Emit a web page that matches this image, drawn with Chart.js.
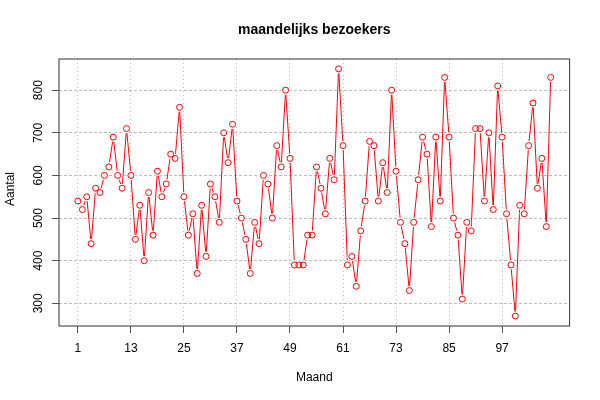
<!DOCTYPE html>
<html>
<head>
<meta charset="utf-8">
<script src="https://cdn.jsdelivr.net/npm/chart.js@4"></script>
<style>
  body { margin: 0; background: #fff; }
  canvas { display: block; }
</style>
</head>
<body>
<canvas id="myChart" width="600" height="400"></canvas>
<script>
// maandelijkse bezoekers, maand 1..108
const bezoekers = [
    540, 520, 550, 440, 570, 560, 600, 620, 690, 600, 570, 710,
    600, 450, 530, 400, 560, 460, 610, 550, 580, 650, 640, 760,
    550, 460, 510, 370, 530, 410, 580, 550, 490, 700, 630, 720,
    540, 500, 450, 370, 490, 440, 600, 580, 500, 670, 620, 800,
    640, 390, 390, 390, 460, 460, 620, 570, 510, 640, 590, 850,
    670, 390, 410, 340, 470, 540, 680, 670, 540, 630, 560, 800,
    610, 490, 440, 330, 490, 590, 690, 650, 480, 690, 540, 830,
    690, 500, 460, 310, 490, 470, 710, 710, 540, 700, 520, 810,
    690, 510, 390, 270, 530, 510, 670, 770, 570, 640, 480, 830
];
const maanden = bezoekers.map((v, i) => i + 1);
const xTicks = [1, 13, 25, 37, 49, 61, 73, 85, 97];
const yTicks = [300, 400, 500, 600, 700, 800];

// R-achtige assen: 4% extra ruimte aan beide kanten
const xMin = 1 - 0.04 * 107, xMax = 108 + 0.04 * 107;
const yMin = 270 - 0.04 * 580, yMax = 850 + 0.04 * 580;

const FONT = '"Liberation Sans", Arial, Helvetica, sans-serif';
const punten = maanden.map((m, i) => ({ x: m, y: bezoekers[i] }));

// titels en verticale y-labels zoals in R
const textPlugin = {
    id: 'rText',
    afterDraw(chart) {
        const c = chart.ctx;
        const area = chart.chartArea;
        const yScale = chart.scales.y;
        c.save();
        // kader rond het plotgebied
        c.strokeStyle = '#333';
        c.lineWidth = 1;
        c.strokeRect(area.left, area.top, area.right - area.left, area.bottom - area.top);

        c.fillStyle = '#000';
        c.textAlign = 'center';
        c.textBaseline = 'alphabetic';
        c.font = 'bold 14px ' + FONT;
        c.fillText('maandelijks bezoekers', (area.left + area.right) / 2, 34);
        c.font = '12px ' + FONT;
        c.fillText('Maand', (area.left + area.right) / 2, 381);

        c.textBaseline = 'middle';
        yTicks.forEach(v => {
            c.save();
            c.translate(38.5, yScale.getPixelForValue(v));
            c.rotate(-Math.PI / 2);
            c.fillText(String(v), 0, 0);
            c.restore();
        });
        c.save();
        c.translate(11, 189);
        c.rotate(-Math.PI / 2);
        c.fillText('Aantal', 0, 0);
        c.restore();
        c.restore();
    }
};

const ctx = document.getElementById('myChart').getContext('2d');
const myChart = new Chart(ctx, {
    type: 'line',
    data: {
        datasets: [{
            // de lijn zelf
            label: 'bezoekers',
            data: punten,
            borderColor: 'red',
            borderWidth: 1,
            tension: 0,
            pointRadius: 0,
            order: 3
        }, {
            // witte rand zodat de lijn niet tegen de cirkels komt (type "b")
            label: 'rand',
            data: punten,
            showLine: false,
            pointRadius: 4.6,
            pointBorderWidth: 0,
            pointBackgroundColor: '#fff',
            order: 2
        }, {
            // open cirkels
            label: 'punten',
            data: punten,
            showLine: false,
            pointRadius: 3,
            pointBorderColor: 'red',
            pointBackgroundColor: 'rgba(0,0,0,0)',
            pointBorderWidth: 1,
            order: 1
        }]
    },
    options: {
        responsive: false,
        animation: false,
        layout: {
            padding: { left: 0, right: 30.4, top: 59, bottom: 0 }
        },
        plugins: {
            legend: { display: false },
            tooltip: { enabled: false }
        },
        scales: {
            x: {
                type: 'linear',
                min: xMin,
                max: xMax,
                afterBuildTicks: (scale) => { scale.ticks = xTicks.map(v => ({ value: v })); },
                afterFit: (scale) => { scale.height = 74; },
                grid: {
                    color: '#bbb',
                    tickColor: '#555',
                    tickLength: 7,
                    tickBorderDash: []
                },
                border: { display: false, dash: [1, 3] },
                ticks: {
                    color: '#000',
                    font: { family: FONT, size: 12 },
                    padding: 8,
                    maxRotation: 0,
                    autoSkip: false
                }
            },
            y: {
                type: 'linear',
                min: yMin,
                max: yMax,
                afterBuildTicks: (scale) => { scale.ticks = yTicks.map(v => ({ value: v })); },
                afterFit: (scale) => { scale.width = 59; },
                grid: {
                    color: '#bbb',
                    tickColor: '#555',
                    tickLength: 7,
                    tickBorderDash: []
                },
                border: { display: false, dash: [3, 2] },
                ticks: { display: false }
            }
        }
    },
    plugins: [textPlugin]
});
</script>
</body>
</html>
